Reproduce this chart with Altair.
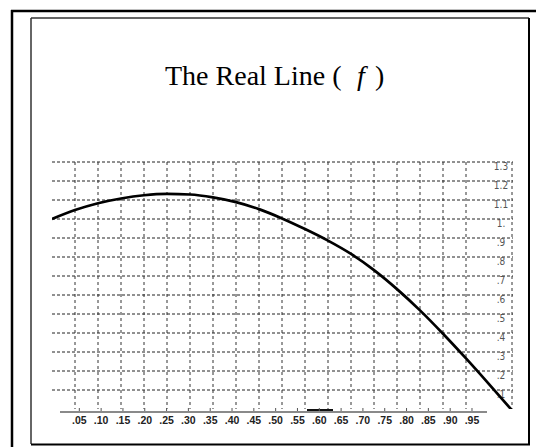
import altair as alt
import pandas as pd

# f(x) sampled along the unit interval
xs = [0.00, 0.05, 0.10, 0.15, 0.20, 0.25, 0.30, 0.35, 0.40, 0.45, 0.50,
      0.55, 0.60, 0.65, 0.70, 0.75, 0.80, 0.85, 0.90, 0.95, 1.00]
fx = [1.000, 1.047, 1.083, 1.108, 1.125, 1.132, 1.129, 1.114, 1.089, 1.052, 1.003,
      0.947, 0.886, 0.816, 0.731, 0.631, 0.519, 0.396, 0.266, 0.131, -0.007]

# grid positions
grid_x = [0.05, 0.10, 0.15, 0.20, 0.25, 0.30, 0.35, 0.40, 0.45, 0.50,
          0.55, 0.60, 0.65, 0.70, 0.75, 0.80, 0.85, 0.90, 1.00]
grid_y = [1.3, 1.2, 1.1, 1.0, 0.9, 0.8, 0.7, 0.6, 0.5, 0.4, 0.3, 0.2, 0.1]
y_labels = ["1.3", "1.2", "1.1", "1.", ".9", ".8", ".7", ".6", ".5", ".4", ".3", ".2", ".1"]

# x axis ticks and labels
x_ticks = [0.05, 0.10, 0.15, 0.20, 0.25, 0.30, 0.35, 0.40, 0.45, 0.50,
           0.55, 0.60, 0.65, 0.70, 0.75, 0.80, 0.85, 0.90, 0.95]
x_labels = [".05", ".10", ".15", ".20", ".25", ".30", ".35", ".40", ".45", ".50",
            ".55", ".60", ".65", ".70", ".75", ".80", ".85", ".90", ".95"]

W, H = 460, 247

curve_df = pd.DataFrame({"x": xs, "f": fx})
gx_df = pd.DataFrame({"v": grid_x})
gy_df = pd.DataFrame({"v": grid_y, "label": y_labels})
tick_df = pd.DataFrame({"t": x_ticks, "label": x_labels})
one = pd.DataFrame({"k": [0]})

xscale = alt.Scale(domain=[0, 1], nice=False, zero=False)
yscale = alt.Scale(domain=[0, 1.3], nice=False, zero=False)
# the printed axis runs on a slightly different spacing than the grid
axis_scale = alt.Scale(domain=[-0.0126, 1.0417], nice=False, zero=False)

hgrid = alt.Chart(gy_df).mark_rule(color="#222", strokeWidth=1, strokeDash=[3, 2]).encode(
    y=alt.Y("v:Q", scale=yscale, axis=None),
    x=alt.value(0), x2=alt.value(W + 1),
)
vgrid = alt.Chart(gx_df).mark_rule(color="#333", strokeWidth=1, strokeDash=[3, 3]).encode(
    x=alt.X("v:Q", scale=xscale, axis=None),
    y=alt.value(0), y2=alt.value(H),
)
ylab = alt.Chart(gy_df).mark_text(
    font="Liberation Sans Narrow, DejaVu Sans Condensed, sans-serif",
    fontSize=10, color="#555", align="center", baseline="middle", dy=5,
).encode(
    y=alt.Y("v:Q", scale=yscale, axis=None),
    x=alt.value(449),
    text="label:N",
)
curve = alt.Chart(curve_df).mark_line(color="black", strokeWidth=2.7, interpolate="monotone",
                                      clip=True).encode(
    x=alt.X("x:Q", scale=xscale, axis=None),
    y=alt.Y("f:Q", scale=yscale, axis=None),
)

axis_line = alt.Chart(one).mark_rule(color="#8a8a8a", strokeWidth=2).encode(
    x=alt.value(8), x2=alt.value(435), y=alt.value(H + 3),
)
smudge = alt.Chart(one).mark_rule(color="#111", strokeWidth=2).encode(
    x=alt.value(255), x2=alt.value(281), y=alt.value(H + 1),
)
ticks = alt.Chart(tick_df).mark_rule(color="#555", strokeWidth=1).encode(
    x=alt.X("t:Q", scale=axis_scale, axis=None),
    y=alt.value(H - 1), y2=alt.value(H + 2),
)
xlab = alt.Chart(tick_df).mark_text(
    font="Liberation Sans, Arial, sans-serif", fontSize=10.5, fontWeight="bold",
    color="#222", align="center", baseline="middle",
).encode(
    x=alt.X("t:Q", scale=axis_scale, axis=None),
    y=alt.value(H + 12),
    text="label:N",
)

# title, with the italic f set on its own
serif = "Liberation Serif, Times New Roman, serif"
t1 = alt.Chart(one).mark_text(font=serif, fontSize=28, align="left", baseline="alphabetic", color="black").encode(
    x=alt.value(113), y=alt.value(-77), text=alt.value("The Real Line (")
)
t2 = alt.Chart(one).mark_text(font=serif, fontSize=28, fontStyle="italic", align="left",
                              baseline="alphabetic", color="black").encode(
    x=alt.value(305), y=alt.value(-77), text=alt.value("f")
)
t3 = alt.Chart(one).mark_text(font=serif, fontSize=28, align="left", baseline="alphabetic", color="black").encode(
    x=alt.value(323), y=alt.value(-77), text=alt.value(")")
)

# page frame
def hline(x1, x2, y, w, c):
    return alt.Chart(one).mark_rule(color=c, strokeWidth=w).encode(
        x=alt.value(x1), x2=alt.value(x2), y=alt.value(y))

def vline(x, y1, y2, w, c):
    return alt.Chart(one).mark_rule(color=c, strokeWidth=w).encode(
        x=alt.value(x), y=alt.value(y1), y2=alt.value(y2))

frame = [
    hline(-41, 484, -151, 2.5, "black"),
    vline(-40, -152, 290, 2.5, "black"),
    hline(-21, 477, -144, 1.5, "#333"),
    vline(-21, -144, 282, 1.5, "#333"),
    vline(477, -144, 283, 2, "black"),
    hline(-21, 478, 282.5, 2, "black"),
]

chart = alt.layer(
    *frame, hgrid, vgrid, ylab, curve, axis_line, smudge, ticks, xlab, t1, t2, t3
).resolve_scale(x="independent").properties(
    width=W, height=H,
    autosize=alt.AutoSizeParams(type="none"),
    padding={"left": 52, "top": 162, "right": 24, "bottom": 38},
).configure_view(stroke=None)

chart.save("out.html", embed_options={"renderer": "svg", "actions": False})
